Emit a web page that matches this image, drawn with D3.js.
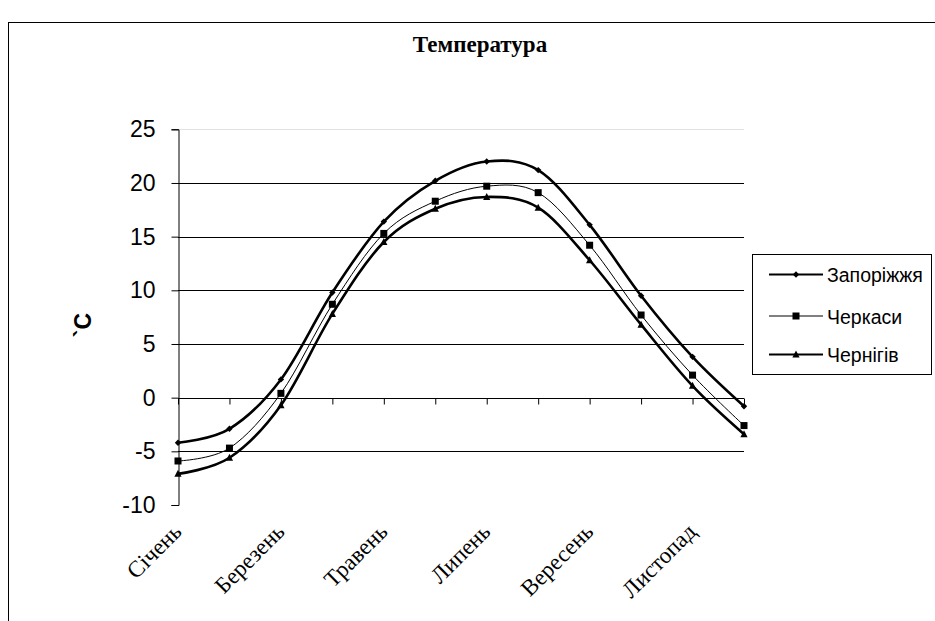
<!DOCTYPE html>
<html>
<head>
<meta charset="utf-8">
<script src="https://cdn.jsdelivr.net/npm/d3@7"></script>
<style>
  html, body { margin: 0; padding: 0; background: #fff; }
  svg { display: block; }
</style>
</head>
<body>
<svg id="chart" width="935" height="621"></svg>
<script>
// Monthly mean air temperature, °C
const months = ["Січень", "Лютий", "Березень", "Квітень", "Травень", "Червень",
                "Липень", "Серпень", "Вересень", "Жовтень", "Листопад", "Грудень"];
const zaporizhzhia = [-4.2, -2.9, 1.7, 9.8, 16.4, 20.2, 22.0, 21.2, 16.1, 9.5, 3.8, -0.8];
const cherkasy     = [-5.9, -4.7, 0.4, 8.7, 15.3, 18.3, 19.7, 19.1, 14.2, 7.7, 2.1, -2.6];
const chernihiv    = [-7.1, -5.6, -0.7, 7.8, 14.5, 17.6, 18.7, 17.7, 12.8, 6.8, 1.1, -3.4];
const yTicks = [-10, -5, 0, 5, 10, 15, 20, 25];
const seriesNames = ["Запоріжжя", "Черкаси", "Чернігів"];

const series = [
  { name: seriesNames[0], values: zaporizhzhia, width: 2.6, marker: "diamond" },
  { name: seriesNames[1], values: cherkasy,     width: 1,   marker: "square" },
  { name: seriesNames[2], values: chernihiv,    width: 2.6, marker: "triangle" }
];

const sans = "'Liberation Sans', Arial, sans-serif";
const serif = "'Liberation Serif', 'Times New Roman', serif";

const svg = d3.select("#chart");

// outer chart frame (runs past the right and bottom edges)
svg.append("rect")
  .attr("x", 8.5).attr("y", 22.5).attr("width", 940).attr("height", 620)
  .attr("fill", "none").attr("stroke", "#000").attr("stroke-width", 1);

svg.append("text")
  .attr("x", 480).attr("y", 52)
  .attr("text-anchor", "middle")
  .attr("font-family", serif)
  .attr("font-weight", "bold").attr("font-size", 23)
  .text("Температура");

const x = d3.scalePoint().domain(months).range([178, 744]);
const y = d3.scaleLinear().domain([-10, 25]).range([505, 129.3]);

// horizontal gridlines
svg.append("g").selectAll("line")
  .data(yTicks.filter(d => d !== -10))
  .join("line")
  .attr("x1", 178).attr("x2", 744)
  .attr("y1", d => Math.round(y(d)) + 0.5).attr("y2", d => Math.round(y(d)) + 0.5)
  .attr("stroke", d => d === 25 ? "#e2e2e2" : "#000")
  .attr("stroke-width", 1);

// value axis
const yAxis = svg.append("g")
  .attr("transform", "translate(178.5,0)")
  .call(d3.axisLeft(y).tickValues(yTicks).tickSize(7).tickPadding(16).tickFormat(d => String(d)));
yAxis.select(".domain").attr("stroke", "#000");
yAxis.selectAll("line").attr("stroke", "#000");
yAxis.selectAll("text")
  .attr("font-family", sans)
  .attr("font-size", 23).attr("fill", "#000");

// category axis at zero
const xAxis = svg.append("g")
  .attr("transform", `translate(0,${Math.round(y(0)) + 0.5})`)
  .call(d3.axisBottom(x).tickSize(6).tickFormat(""));
xAxis.select(".domain").attr("stroke", "#000").attr("d", `M178,0H744`);
xAxis.selectAll("line").attr("stroke", "#000");

// rotated category labels, every second month
svg.append("g").selectAll("text")
  .data(months.filter((d, i) => i % 2 === 0))
  .join("text")
  .attr("transform", d => `translate(${x(d) + 5},${533}) rotate(-45)`)
  .attr("text-anchor", "end")
  .attr("font-family", serif)
  .attr("font-size", 23)
  .text(d => d);

// axis title
svg.append("text")
  .attr("transform", "translate(91,325) rotate(-90)")
  .attr("text-anchor", "middle")
  .attr("font-family", sans)
  .attr("font-weight", "bold").attr("font-size", 23)
  .text("`C");

const line = d3.line()
  .x((d, i) => x(months[i]))
  .y(d => y(d))
  .curve(d3.curveCatmullRom.alpha(0));

function drawMarker(g, type, cx, cy) {
  if (type === "diamond") {
    g.append("path").attr("d", `M${cx},${cy - 3.2}L${cx + 3.2},${cy}L${cx},${cy + 3.2}L${cx - 3.2},${cy}Z`)
      .attr("fill", "#000");
  } else if (type === "square") {
    g.append("rect").attr("x", cx - 3.5).attr("y", cy - 3.5).attr("width", 7).attr("height", 7)
      .attr("fill", "#000");
  } else {
    g.append("path").attr("d", `M${cx},${cy - 4}L${cx + 3.6},${cy + 3}L${cx - 3.6},${cy + 3}Z`)
      .attr("fill", "#000");
  }
}

const plot = svg.append("g");
series.forEach(s => {
  plot.append("path")
    .attr("d", line(s.values))
    .attr("fill", "none").attr("stroke", "#000")
    .attr("stroke-width", s.width).attr("stroke-linejoin", "round");
  const mg = plot.append("g");
  s.values.forEach((v, i) => drawMarker(mg, s.marker, x(months[i]), y(v)));
});

// legend
const legend = svg.append("g");
legend.append("rect")
  .attr("x", 752.5).attr("y", 254.5).attr("width", 179).attr("height", 120)
  .attr("fill", "#fff").attr("stroke", "#000");
const legendY = [274.5, 316, 354.5];
series.forEach((s, i) => {
  const ly = legendY[i];
  legend.append("line")
    .attr("x1", 769).attr("x2", 823).attr("y1", ly).attr("y2", ly)
    .attr("stroke", "#000").attr("stroke-width", s.width === 1 ? 1 : 2.2);
  drawMarker(legend, s.marker, 796, ly);
  legend.append("text")
    .attr("x", 827).attr("y", ly + 7.5)
    .attr("font-family", sans)
    .attr("font-size", 19.5)
    .text(s.name);
});
</script>
</body>
</html>
